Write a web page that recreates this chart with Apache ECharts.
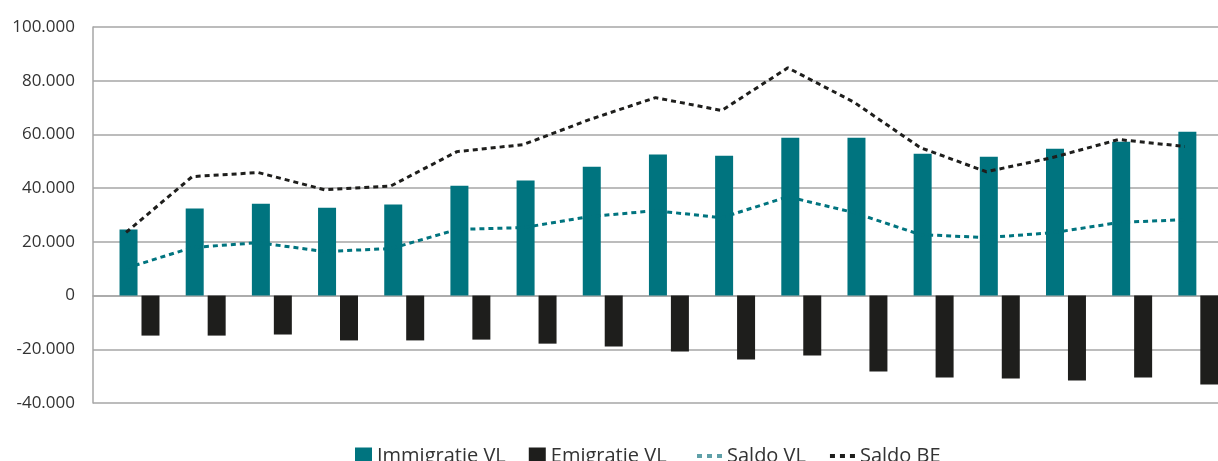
<!DOCTYPE html>
<html>
<head>
<meta charset="utf-8">
<script src="https://cdn.jsdelivr.net/npm/echarts@6/dist/echarts.min.js"></script>
<style>
  html, body { margin: 0; padding: 0; background: #fff; }
  #chart { width: 1218px; height: 461px; }
</style>
</head>
<body>
<div id="chart"></div>
<script>
// 17 periodes, geen labels op de x-as
const categories = ['1', '2', '3', '4', '5', '6', '7', '8', '9', '10', '11', '12', '13', '14', '15', '16', '17'];

const immigratieVL = [24600, 32400, 34200, 32700, 33900, 40900, 42800, 48000, 52500, 52100, 58800, 58800, 52800, 51700, 54700, 57300, 61000];
const emigratieVL = [-14900, -14900, -14500, -16700, -16700, -16400, -17900, -19000, -20800, -23800, -22300, -28300, -30500, -30900, -31600, -30500, -33100];
const saldoVL = [10200, 17900, 19700, 16400, 17500, 24600, 25300, 29400, 31600, 29000, 36800, 30900, 22700, 21600, 23400, 27200, 28300];
const saldoBE = [23500, 44300, 45800, 39400, 40800, 53600, 56200, 65500, 73700, 68900, 84800, 72000, 55100, 46100, 51400, 58100, 55500];

const yTicks = { min: -40000, max: 100000, interval: 20000 };

const TEAL = '#00747f';
const TEAL_LIGHT = '#5fa0a8';
const BLACK = '#1e1e1c';
const GRID = '#a6a6a6';
const FONT = 'Open Sans';

const chart = echarts.init(document.getElementById('chart'));

// 1000-tallen met punt, zoals in het origineel
const fmt = v => {
  if (v === 0) return '0';
  const s = Math.abs(v).toString().replace(/\B(?=(\d{3})+(?!\d))/g, '.');
  return (v < 0 ? '-' : '') + s;
};

const legendText = { fontFamily: FONT, fontSize: 20, color: '#333' };

// stippellijn in de legende, zonder symbool
const dotLegend = color => ({
  itemStyle: { opacity: 0 },
  lineStyle: { color, width: 4, type: [5, 5], cap: 'butt' }
});

const option = {
  animation: false,
  grid: { left: 93, top: 27, right: -2, bottom: 58 },
  legend: [
    {
      left: 350, top: 441,
      icon: 'rect',
      itemWidth: 17, itemHeight: 17, itemGap: 23,
      textStyle: legendText,
      data: ['Immigratie VL', 'Emigratie VL']
    },
    {
      left: 690, top: 441,
      itemWidth: 25, itemHeight: 17, itemGap: 22,
      textStyle: legendText,
      data: [
        Object.assign({ name: 'Saldo VL' }, dotLegend(TEAL_LIGHT)),
        Object.assign({ name: 'Saldo BE' }, dotLegend(BLACK))
      ]
    }
  ],
  xAxis: {
    type: 'category',
    data: categories,
    axisLine: { onZero: true, lineStyle: { color: GRID, width: 1.5 } },
    axisTick: { show: false },
    axisLabel: { show: false }
  },
  yAxis: {
    type: 'value',
    min: yTicks.min,
    max: yTicks.max,
    interval: yTicks.interval,
    axisLine: { show: true, lineStyle: { color: GRID, width: 1.5 } },
    axisTick: { show: false },
    splitLine: { lineStyle: { color: GRID, width: 1.5 } },
    axisLabel: {
      margin: 18,
      fontFamily: FONT,
      fontSize: 17,
      color: '#333',
      formatter: fmt
    }
  },
  series: [
    {
      // lege plaatshouder: schuift de staven rechts van het midden, zoals in Excel
      name: '_',
      type: 'bar',
      barWidth: 22,
      barGap: '22%',
      data: categories.map(() => '-')
    },
    {
      name: 'Immigratie VL',
      type: 'bar',
      barWidth: 18,
      barGap: '22%',
      itemStyle: { color: TEAL },
      data: immigratieVL
    },
    {
      name: 'Emigratie VL',
      type: 'bar',
      barWidth: 18,
      barGap: '22%',
      itemStyle: { color: BLACK },
      data: emigratieVL
    },
    {
      name: 'Saldo VL',
      type: 'line',
      symbol: 'none',
      z: 5,
      itemStyle: { color: TEAL },
      lineStyle: { color: TEAL, width: 3, type: [5, 4] },
      data: saldoVL
    },
    {
      name: 'Saldo BE',
      type: 'line',
      symbol: 'none',
      z: 5,
      itemStyle: { color: BLACK },
      lineStyle: { color: BLACK, width: 3, type: [5, 4] },
      data: saldoBE
    }
  ]
};

chart.setOption(option);
</script>
</body>
</html>
